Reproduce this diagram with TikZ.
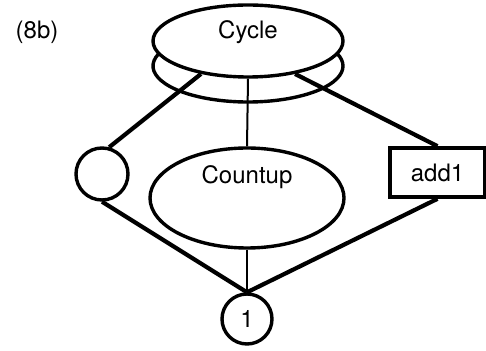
\documentclass[tikz,border=0pt]{standalone}
\usepackage{fontspec}
\setmainfont{TeX Gyre Heros}
\usepackage{tikz}
\usetikzlibrary{shapes.geometric}
\tikzset{
    oval/.style={draw,ellipse,line width=3.4pt,inner sep=0pt},
    ring/.style={draw,circle,line width=3.4pt,inner sep=0pt},
    tag/.style={draw,rectangle,line width=3.6pt,inner sep=0pt},
    strong/.style={line width=4.2pt},
    weak/.style={line width=2pt}
}

\begin{document}
\begin{tikzpicture}[x=1pt,y=1pt,font=\fontsize{24}{28}\selectfont]
\useasboundingbox (0,0) rectangle (486,350);

%%% NODES %%%
\node[oval,minimum width=190pt,minimum height=72pt,
  label={[yshift=9pt]center:Cycle}] (Y) at (248,309) {}; % cycle
\node[oval,minimum width=194pt,minimum height=100pt,
  label={[yshift=21pt]center:Countup}] (U) at (247,152) {}; % countup
\node[ring,minimum size=52pt] (L) at (102,176) {}; % left circle
\node[tag,minimum width=95pt,minimum height=49pt] (A) at (437.5,177.5) {add1}; % add1
\node[ring,minimum size=50pt] (O) at (247,31) {1}; % one
\node at (37,318) {(8b)};

%%% LOWER RIM OF CYCLE %%%
\draw[line width=3.4pt] ([yshift=-25pt]Y.center) ++(159.7:95pt and 36pt)
  arc[start angle=159.7,end angle=380.3,x radius=95pt,y radius=36pt];

%%% CONNECTORS %%%
\draw[strong] (Y.215) -- (L.75);
\draw[strong] (Y.325) -- (A.north);
\draw[strong] (L.south) -- (O.north);
\draw[strong] (A.south) -- (O.north);
\draw[weak] (Y.south) -- (U.north);
\draw[weak] (U.south) -- (O.north);
\end{tikzpicture}
\end{document}
